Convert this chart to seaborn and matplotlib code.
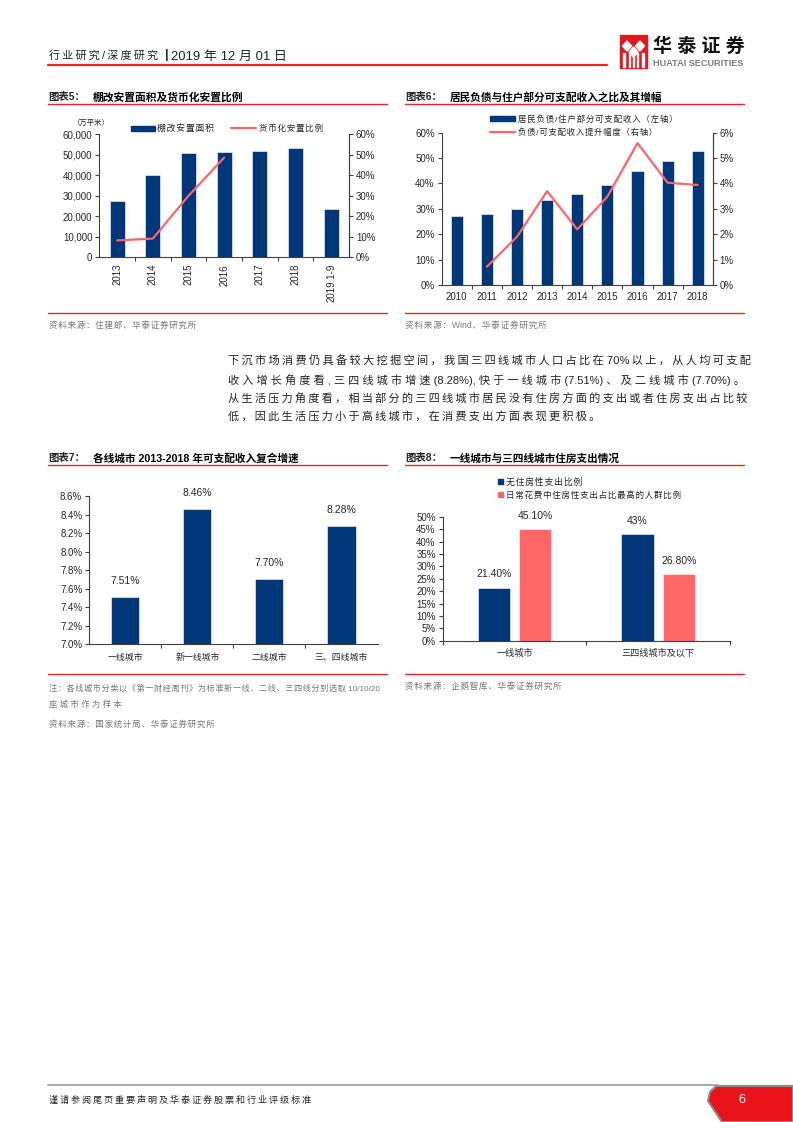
import re
import numpy as np
import pandas as pd
import matplotlib
matplotlib.use("Agg")
import matplotlib.pyplot as plt
import seaborn as sns
from matplotlib.transforms import Affine2D
from matplotlib.patches import Rectangle, Polygon
from matplotlib.lines import Line2D
from matplotlib.ticker import FuncFormatter, FixedLocator

# ---------------- data ----------------
c5_years = ["2013", "2014", "2015", "2016", "2017", "2018", "2019.1-9"]
c5_area = [27500, 40000, 51000, 51400, 51700, 53300, 23300]
c5_ratio = [8.1, 9.0, 29.9, 48.6]

c6_years = ["2010", "2011", "2012", "2013", "2014", "2015", "2016", "2017", "2018"]
c6_debt = [27.0, 27.8, 29.8, 33.5, 35.8, 39.3, 44.8, 48.7, 52.6]
c6_inc_years = ["2011", "2012", "2013", "2014", "2015", "2016", "2017", "2018"]
c6_inc = [0.72, 1.90, 3.70, 2.19, 3.48, 5.59, 4.03, 3.94]

c7_cities = ["一线城市", "新一线城市", "二线城市", "三、四线城市"]
c7_cagr = [7.51, 8.46, 7.70, 8.28]
c7_labels = ["7.51%", "8.46%", "7.70%", "8.28%"]

c8_cities = ["一线城市", "三四线城市及以下"]
c8_series = ["无住房性支出比例", "日常花费中住房性支出占比最高的人群比例"]
c8_none = [21.4, 43.0]
c8_high = [45.1, 26.8]
c8_labels_none = ["21.40%", "43%"]
c8_labels_high = ["45.10%", "26.80%"]

NAVY = "#003778"
RED = "#FF6468"
RED_BAR = "#FF6666"
LINE_RED = "#E8262C"
AX_C = "#404040"
GRAY_T = "#777777"

sns.set_style("white")
FONT = ["Liberation Sans", "Noto Sans CJK SC", "DejaVu Sans"]
plt.rcParams["font.family"] = FONT
plt.rcParams["axes.unicode_minus"] = False

W, H = 793, 1122
fig = plt.figure(figsize=(W / 100, H / 100), dpi=100)
PX = Affine2D().scale(1.0 / W, -1.0 / H).translate(0, 1) + fig.transFigure
RENDERER = fig.canvas.get_renderer()

SEPS = ["", "\u200a", "\u2009", "\u200a\u2009", "\u2009\u2009"]


def add_ax(l, t, r, b):
    return fig.add_axes([l / W, 1 - b / H, (r - l) / W, (b - t) / H])


def txt(x, y, s, size=7, **kw):
    kw.setdefault("va", "center")
    kw.setdefault("ha", "left")
    return fig.text(x, y, s, fontsize=size, transform=PX, **kw)


def _width(s, size, weight):
    t = fig.text(0, 0, s, fontsize=size, weight=weight)
    w = t.get_window_extent(renderer=RENDERER).width
    t.remove()
    return w


def _join(s, sep):
    toks = re.findall(r"[!-~]+|\s+|[^\x00-\x7f]", s)
    out = ""
    for i, tk in enumerate(toks):
        if i > 0 and not tk.isspace() and not toks[i - 1].isspace():
            out += sep
        out += tk
    return out


def spaced(x0, y, s, size=7, x1=None, sep=None, weight="normal", color="#222222"):
    """One text object per line; letter spacing via thin spaces, size tuned to span x0..x1."""
    if x1 is not None:
        best = None
        for sp in SEPS:
            st = _join(s, sp)
            sz = size * (x1 - x0) / _width(st, size, weight)
            score = abs(sz - size)
            if best is None or score < best[0]:
                best = (score, sp, sz, st)
        _, sep, size, st = best
    else:
        st = _join(s, sep or "")
    em = size * 100.0 / 72.0
    txt(x0, y + 0.37 * em, st, size=size, weight=weight, color=color, va="baseline")
    return sep, size


def hline(x0, x1, y, color=LINE_RED, lw=1.0):
    fig.add_artist(Line2D([x0, x1], [y, y], color=color, lw=lw, transform=PX))


def style_axes(ax, right=False):
    for s in ["top", "right", "left", "bottom"]:
        ax.spines[s].set_visible(False)
    ax.spines["left"].set_visible(True)
    ax.spines["bottom"].set_visible(True)
    if right:
        ax.spines["right"].set_visible(True)
    for s in ax.spines.values():
        s.set_color(AX_C)
        s.set_linewidth(0.8)
    ax.set_xlabel("")
    ax.set_ylabel("")
    ax.grid(False)


def right_axis(axb, fmt, ticks, lim):
    axb.set_ylim(*lim)
    axb.set_yticks(ticks)
    axb.yaxis.set_major_formatter(FuncFormatter(fmt))
    for s in ["top", "left", "bottom"]:
        axb.spines[s].set_visible(False)
    axb.spines["right"].set_color(AX_C)
    axb.spines["right"].set_linewidth(0.8)
    axb.tick_params(axis="y", length=3, width=0.8, color=AX_C, labelsize=7, pad=2,
                    direction="out", right=True)
    axb.set_ylabel("")
    axb.set_xlabel("")


def title(x, y, num, s, x_start, x_end, line_end):
    txt(x, y, f"图表{num}：", size=7.5, weight="bold")
    spaced(x_start, y, s, size=7.5, x1=x_end, weight="bold", color="black")
    hline(x, line_end, y + 7.5)


# ---------------- header ----------------
spaced(49, 55, "行业研究/深度研究", size=7.8, x1=158, color="#222222")
txt(165.5, 55, "|", size=9, color="#222222", weight="bold")
spaced(171, 55, "2019 年 12 月 01 日", size=8.3, x1=287, color="#222222")
hline(48, 607, 65.5, color=LINE_RED, lw=1.6)

# logo
fig.add_artist(Rectangle((620, 35), 27, 33, color="#E4161E", transform=PX))
for cx in [627, 640]:
    fig.add_artist(Polygon([(cx, 41), (cx + 4.5, 46), (cx, 51), (cx - 4.5, 46)],
                           closed=True, color="white", transform=PX))
fig.add_artist(Polygon([(633.5, 47), (638, 52), (633.5, 57), (629, 52)],
                       closed=True, color="white", transform=PX))
for xx in [624, 629.5, 633.5, 637.5, 643]:
    fig.add_artist(Rectangle((xx - 0.6, 53), 1.2, 14, color="white", transform=PX))
spaced(653, 45, "华泰证券", size=14, x1=745, weight="bold", color="#111111")
txt(653, 63.3, "HUATAI SECURITIES", size=6.6, weight="bold", color="#7a7a7a")

# ---------------- chart 5 ----------------
title(48, 97, 5, "棚改安置面积及货币化安置比例", 93, 243, 387)
ax5 = add_ax(99.3, 134.3, 349, 257)
sns.barplot(x=c5_years, y=c5_area, color=NAVY, saturation=1, width=0.42, ax=ax5,
            edgecolor="white", linewidth=0.4)
ax5.set_xlim(-0.5, len(c5_years) - 0.5)
ax5.set_ylim(0, 60000)
ax5.set_yticks(np.arange(0, 60001, 10000))
ax5.yaxis.set_major_formatter(FuncFormatter(lambda v, p: f"{int(v):,}"))
style_axes(ax5, right=True)
ax5.tick_params(axis="y", length=3, width=0.8, color=AX_C, labelsize=7, pad=2, direction="out", left=True)
ax5.tick_params(axis="x", which="major", length=0, labelsize=7, pad=5, labelrotation=90)
ax5.xaxis.set_minor_locator(FixedLocator(np.arange(0.5, len(c5_years) - 1, 1.0)))
ax5.tick_params(axis="x", which="minor", length=3, width=0.8, color=AX_C, direction="out", bottom=True)
ax5b = ax5.twinx()
sns.lineplot(x=np.arange(len(c5_ratio)), y=c5_ratio, ax=ax5b, color=RED, lw=1.6, sort=False)
right_axis(ax5b, lambda v, p: f"{int(v)}%", np.arange(0, 61, 10), (0, 60))
spaced(73, 122, "（万平米）", size=6, x1=110)
fig.add_artist(Rectangle((131, 125.5), 24, 5, color=NAVY, transform=PX))
spaced(157, 128, "棚改安置面积", size=6.2, x1=214)
hline(231, 256, 128, color=RED, lw=1.6)
spaced(259, 128, "货币化安置比例", size=6.2, x1=323)
hline(48, 387, 313)
spaced(49, 325, "资料来源：住建部、华泰证券研究所", size=6, x1=197, color=GRAY_T)

# ---------------- chart 6 ----------------
title(405, 97, 6, "居民负债与住户部分可支配收入之比及其增幅", 450, 663, 744)
ax6 = add_ax(441.7, 132.7, 712.8, 285)
sns.barplot(x=c6_years, y=c6_debt, color=NAVY, saturation=1, width=0.4, ax=ax6,
            edgecolor="white", linewidth=0.4)
ax6.set_xlim(-0.5, len(c6_years) - 0.5)
ax6.set_ylim(0, 60)
ax6.set_yticks(np.arange(0, 61, 10))
ax6.yaxis.set_major_formatter(FuncFormatter(lambda v, p: f"{int(v)}%"))
style_axes(ax6, right=True)
ax6.tick_params(axis="y", length=3, width=0.8, color=AX_C, labelsize=7, pad=2, direction="out", left=True)
ax6.tick_params(axis="x", which="major", length=0, labelsize=7, pad=5)
ax6.xaxis.set_minor_locator(FixedLocator(np.arange(0.5, len(c6_years) - 1, 1.0)))
ax6.tick_params(axis="x", which="minor", length=3, width=0.8, color=AX_C, direction="out", bottom=True)
ax6b = ax6.twinx()
pos6 = [c6_years.index(y) for y in c6_inc_years]
sns.lineplot(x=pos6, y=c6_inc, ax=ax6b, color=RED, lw=1.6, sort=False)
right_axis(ax6b, lambda v, p: f"{int(v)}%", np.arange(0, 7, 1), (0, 6))
fig.add_artist(Rectangle((490, 116), 25, 5, color=NAVY, transform=PX))
spaced(518, 118.5, "居民负债/住户部分可支配收入（左轴）", size=6.2, x1=677)
hline(490, 515, 132, color=RED, lw=1.6)
spaced(518, 132, "负债/可支配收入提升幅度（右轴）", size=6.2, x1=657)
hline(405, 744, 313)
spaced(405, 325, "资料来源：Wind、华泰证券研究所", size=6, x1=547, color=GRAY_T)

# ---------------- paragraph ----------------
para = [
    "下沉市场消费仍具备较大挖掘空间，我国三四线城市人口占比在 70%以上，从人均可支配",
    "收入增长角度看,三四线城市增速(8.28%),快于一线城市(7.51%)、及二线城市(7.70%)。",
    "从生活压力角度看，相当部分的三四线城市居民没有住房方面的支出或者住房支出占比较",
    "低，因此生活压力小于高线城市，在消费支出方面表现更积极。",
]
para_y = [361, 380, 398.5, 417]
last = None
for line, yy in zip(para[:-1], para_y[:-1]):
    last = spaced(228, yy, line, size=8.2, x1=748, color="#222222")
spaced(228, para_y[-1], para[-1], size=last[1], sep=last[0], color="#222222")

# ---------------- chart 7 ----------------
title(48, 458, 7, "各线城市 2013-2018 年可支配收入复合增速", 93, 298, 387)
ax7 = add_ax(89.3, 496, 377.5, 644.3)
sns.barplot(x=c7_cities, y=c7_cagr, color=NAVY, saturation=1, width=0.39, ax=ax7,
            edgecolor="white", linewidth=0.4)
ax7.set_xlim(-0.5, len(c7_cities) - 0.5)
ax7.set_ylim(7.0, 8.6)
ax7.set_yticks(np.round(np.arange(7.0, 8.61, 0.2), 1))
ax7.yaxis.set_major_formatter(FuncFormatter(lambda v, p: f"{v:.1f}%"))
style_axes(ax7)
ax7.tick_params(axis="y", length=3, width=0.8, color=AX_C, labelsize=7, pad=2, direction="out", left=True)
ax7.tick_params(axis="x", which="major", length=0, labelsize=6.4, pad=6)
ax7.xaxis.set_minor_locator(FixedLocator(np.arange(0.5, len(c7_cities) - 1, 1.0)))
ax7.tick_params(axis="x", which="minor", length=3, width=0.8, color=AX_C, direction="out", bottom=True)
for i, (v, lab) in enumerate(zip(c7_cagr, c7_labels)):
    ax7.annotate(lab, (i, v), xytext=(0, 8), textcoords="offset points",
                 ha="center", va="bottom", fontsize=7.5)
hline(48, 387, 674.5)
spaced(49, 688, "注：各线城市分类以《第一财经周刊》为标准新一线、二线、三四线分别选取 10/10/20",
       size=6, x1=387, color=GRAY_T)
spaced(49, 704, "座城市作为样本", size=6, x1=122, color=GRAY_T)
spaced(49, 724, "资料来源：国家统计局、华泰证券研究所", size=6, x1=215, color=GRAY_T)

# ---------------- chart 8 ----------------
title(405, 458, 8, "一线城市与三四线城市住房支出情况", 450, 620, 744)
ax8 = add_ax(442.7, 516.7, 730, 640.7)
df8 = pd.DataFrame({
    "city": c8_cities * 2,
    "series": [c8_series[0]] * 2 + [c8_series[1]] * 2,
    "value": c8_none + c8_high,
})
sns.barplot(data=df8, x="city", y="value", hue="series", palette=[NAVY, RED_BAR],
            saturation=1, width=0.574, gap=0.21, ax=ax8, legend=False,
            edgecolor="white", linewidth=0.4)
ax8.set_xlim(-0.5, len(c8_cities) - 0.5)
ax8.set_ylim(0, 50)
ax8.set_yticks(np.arange(0, 51, 5))
ax8.yaxis.set_major_formatter(FuncFormatter(lambda v, p: f"{int(v)}%"))
style_axes(ax8)
ax8.tick_params(axis="y", length=3, width=0.8, color=AX_C, labelsize=7, pad=2, direction="out", left=True)
ax8.tick_params(axis="x", which="major", length=0, labelsize=6.6, pad=6)
ax8.xaxis.set_minor_locator(FixedLocator([-0.5, 0.5, 1.5]))
ax8.tick_params(axis="x", which="minor", length=3, width=0.8, color=AX_C, direction="out", bottom=True)
for cont, labs in zip(ax8.containers, [c8_labels_none, c8_labels_high]):
    for bar, lab in zip(cont, labs):
        ax8.annotate(lab, (bar.get_x() + bar.get_width() / 2, bar.get_height()),
                     xytext=(0, 6), textcoords="offset points",
                     ha="center", va="bottom", fontsize=7.5)
fig.add_artist(Rectangle((498, 478.5), 5, 5, color=NAVY, transform=PX))
spaced(506, 481, c8_series[0], size=6.2, x1=583)
fig.add_artist(Rectangle((498, 492), 5, 5, color=RED_BAR, transform=PX))
spaced(506, 494.5, c8_series[1], size=6.2, x1=682)
hline(405, 744, 674.5)
spaced(405, 686, "资料来源：企鹅智库、华泰证券研究所", size=6, x1=563, color=GRAY_T)

# ---------------- footer ----------------
hline(48, 718, 1085, color="#999999", lw=1.2)
spaced(49, 1099, "谨请参阅尾页重要声明及华泰证券股票和行业评级标准", size=6.6, x1=310, color="#222222")
fig.add_artist(Polygon([(716, 1086), (793, 1086), (793, 1122), (722, 1122), (708, 1101), (710, 1092)],
                       closed=True, facecolor="#E8141A", edgecolor="#8a8a8a", lw=1.5, transform=PX))
txt(742, 1100, "6", size=9, color="white", ha="center")

fig.savefig("out.png", dpi=100)
